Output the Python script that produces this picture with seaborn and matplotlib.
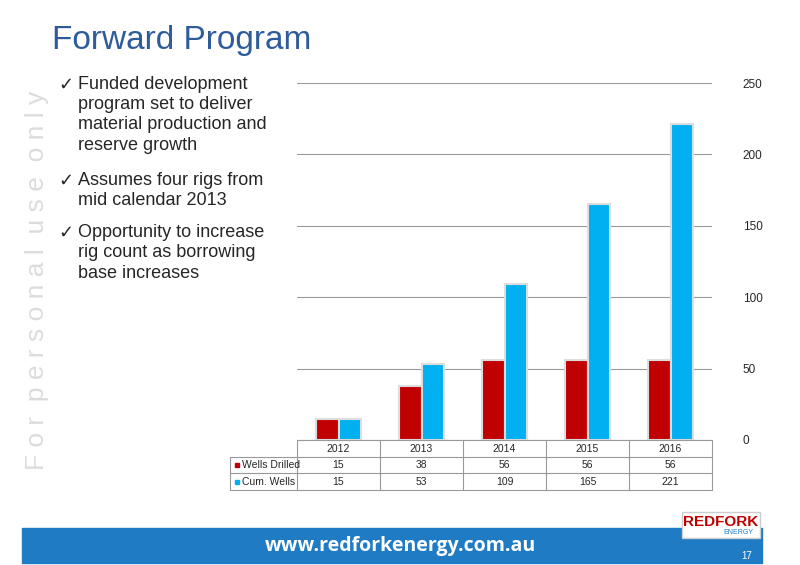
import matplotlib
matplotlib.use("Agg")
import matplotlib.pyplot as plt
import seaborn as sns
import pandas as pd
import numpy as np
from matplotlib.patches import Rectangle

years = ["2012", "2013", "2014", "2015", "2016"]
wells_drilled = [15, 38, 56, 56, 56]
cum_wells = [15, 53, 109, 165, 221]
series = ["Wells Drilled", "Cum. Wells"]
colors = ["#C00000", "#00B0F0"]
yticks = [0, 50, 100, 150, 200, 250]
bullets = ["Funded development\nprogram set to deliver\nmaterial production and\nreserve growth",
           "Assumes four rigs from\nmid calendar 2013",
           "Opportunity to increase\nrig count as borrowing\nbase increases"]

sns.set_theme(style="white")
plt.rcParams['font.family'] = ['Liberation Sans', 'DejaVu Sans']

W, H = 800, 565
fig = plt.figure(figsize=(8, 5.65), dpi=100)

def fx(x): return x / W
def fy(y): return 1 - y / H

df = pd.DataFrame({"Year": years * 2,
                   "Value": wells_drilled + cum_wells,
                   "Series": [series[0]] * 5 + [series[1]] * 5})

ax = fig.add_axes([fx(297), fy(440), fx(712) - fx(297), fy(83) - fy(440)])
sns.barplot(data=df, x="Year", y="Value", hue="Series", palette=colors, saturation=1,
            width=0.55, ax=ax, legend=False, edgecolor="#dddddd", linewidth=1.5)
ax.set_ylim(0, 250)
ax.set_yticks(yticks)
ax.yaxis.tick_right()
ax.tick_params(axis='y', length=0, labelsize=8.5, pad=22)
ax.set_xticks([]); ax.set_xlabel(""); ax.set_ylabel("")
ax.grid(axis='y', color="#999999", linewidth=0.8)
ax.set_axisbelow(True)
for s in ax.spines.values():
    s.set_visible(False)

# Table
lc = "#999999"
col_edges = np.linspace(297, 712, 6)
rows = [440, 457, 473, 490]
fig.add_artist(plt.Line2D([fx(297), fx(712)], [fy(440)] * 2, color=lc, lw=0.8))
for y in rows[1:]:
    fig.add_artist(plt.Line2D([fx(230), fx(712)], [fy(y)] * 2, color=lc, lw=0.8))
for x in col_edges:
    fig.add_artist(plt.Line2D([fx(x)] * 2, [fy(440), fy(490)], color=lc, lw=0.8))
fig.add_artist(plt.Line2D([fx(230)] * 2, [fy(457), fy(490)], color=lc, lw=0.8))
for i, yr in enumerate(years):
    cx = (col_edges[i] + col_edges[i + 1]) / 2
    fig.text(fx(cx), fy(449), yr, ha='center', va='center', fontsize=7.5)
    fig.text(fx(cx), fy(465), str(wells_drilled[i]), ha='center', va='center', fontsize=7.5)
    fig.text(fx(cx), fy(482), str(cum_wells[i]), ha='center', va='center', fontsize=7.5)
for j, (name, c) in enumerate(zip(series, colors)):
    yy = 465 + j * 17
    fig.add_artist(Rectangle((fx(235), fy(yy) - 0.004), 0.005, 0.008, color=c, transform=fig.transFigure))
    fig.text(fx(242), fy(yy), name, ha='left', va='center', fontsize=7.5)

# Title and bullets
fig.text(fx(52), fy(40), "Forward Program", fontsize=24, color="#2E5C9A", va='center')
by = [76, 172, 224]
for b, y in zip(bullets, by):
    fig.text(fx(58), fy(y), "\u2713", fontsize=13, va='top', family=['DejaVu Sans'])
    fig.text(fx(78), fy(y), b, fontsize=13, va='top', linespacing=1.25)

# Watermark
fig.text(fx(37), fy(280), "F o r  p e r s o n a l  u s e  o n l y", rotation=90, fontsize=19,
         color="#dcdcdc", ha='center', va='center')

# Banner
fig.add_artist(Rectangle((fx(22), fy(563)), fx(762) - fx(22), fy(528) - fy(563),
                         color="#1F7BC4", transform=fig.transFigure))
fig.text(fx(400), fy(546), "www.redforkenergy.com.au", color="white", fontsize=14,
         fontweight='bold', ha='center', va='center', family=['Open Sans', 'DejaVu Sans'])
fig.text(fx(752), fy(556), "17", color="white", fontsize=7, ha='right', va='center')
fig.add_artist(Rectangle((fx(682), fy(538)), fx(78), fy(512) - fy(538),
                         facecolor="white", edgecolor="#cccccc", transform=fig.transFigure))
fig.text(fx(721), fy(522), "REDFORK", color="#C00000", fontsize=11, fontweight='bold',
         ha='center', va='center')
fig.text(fx(738), fy(533), "ENERGY", color="#1F7BC4", fontsize=5, ha='center', va='center')

fig.savefig("out.png", dpi=100)
